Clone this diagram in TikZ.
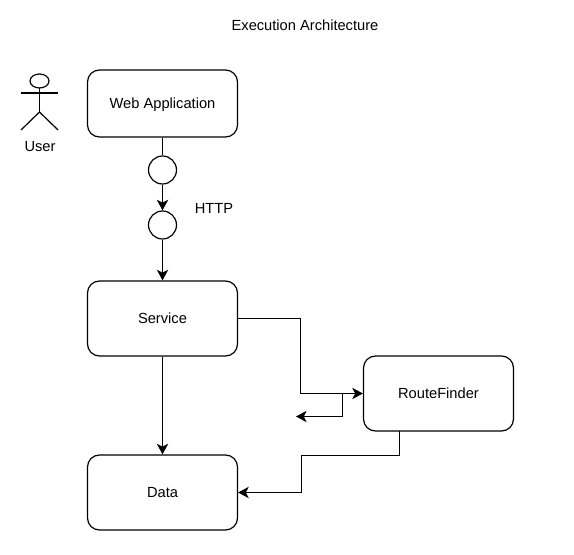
\documentclass[tikz,border=0pt]{standalone}
\usepackage{fontspec}
\setmainfont{Liberation Sans}
\usetikzlibrary{arrows.meta}

\begin{document}
\begin{tikzpicture}[x=0.75pt, y=-0.75pt]
    % Define styles
    \definecolor{borderColour}{HTML}{000000}
    \tikzset{
        component/.style={draw=borderColour, line width=0.9pt, rounded corners=9pt, minimum width=112.5pt, minimum height=#1, inner sep=0pt, text height=10pt, text depth=1.9pt, font=\fontsize{11}{13}\selectfont},
        port/.style={draw=borderColour, line width=0.9pt, circle, minimum size=21pt, inner sep=0pt},
        label/.style={inner sep=0pt, font=\fontsize{11}{13}\selectfont},
        link/.style={draw=borderColour, line width=0.9pt, -{Stealth[length=8pt, width=8.5pt, inset=2.2pt]}},
        plain/.style={draw=borderColour, line width=0.9pt}
    }

    % Fix the page size
    \useasboundingbox (0,0) rectangle (574,555);

    % Title
    \node[label] (title) at (305,25.5) {Execution Architecture};

    % Draw the user figure
    \draw[plain] (39.5,81) ellipse [x radius=9.5, y radius=7];
    \draw[plain] (39.5,88) -- (39.5,112);
    \draw[plain] (21,93) -- (58,93);
    \draw[plain] (21,130) -- (39.5,112) -- (58,130);
    \node[label] (user) at (40,147) {User};

    % Draw the components
    \node[component=50.25pt] (webApp) at (162.5,103.5) {Web Application};
    \node[component=56.25pt] (service) at (162.5,318.5) {Service};
    \node[component=56.25pt] (data) at (162.5,492.5) {Data};
    \node[component=56.25pt] (routeFinder) at (438.5,393.5) {RouteFinder};

    % Draw the ports
    \node[port] (portA) at (162.5,170) {};
    \node[port] (portB) at (162.5,225) {};
    \node[label] (http) at (214,208.5) {HTTP};

    % Free end of the short branch
    \coordinate (branchStart) at (342.5,393.5);
    \coordinate (branchEnd) at (296,416.5);

    % Draw the connectors
    \draw[plain] (webApp) -- (portA);
    \draw[link] (portA) -- (portB);
    \draw[link] (portB) -- (service);
    \draw[link] (service) -- (data);
    \draw[link] (service.east) -- (300.5,318.5) -- (300.5,393.5) -- (routeFinder.west);
    \draw[link] (branchStart) |- (branchEnd);
    \draw[link] (399.5,431) -- (399.5,455.5) -- (301.5,455.5) -- (301.5,492.5) -- (data.east);

\end{tikzpicture}
\end{document}
